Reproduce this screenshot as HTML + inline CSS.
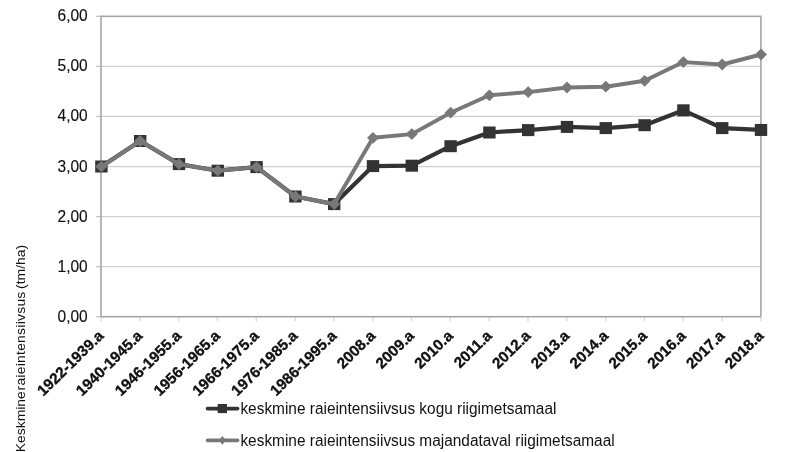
<!DOCTYPE html>
<html lang="et">
<head>
<meta charset="utf-8">
<title>Keskmine raieintensiivsus</title>
<style>
html,body{margin:0;padding:0;background:#fff;}
body{width:799px;height:452px;overflow:hidden;}
svg{display:block;}
text{font-family:"Liberation Sans",Arial,sans-serif;fill:#111;}
.yl{font-size:15.5px;text-anchor:end;stroke:#111;stroke-width:0.15px;}
.xl{font-size:15.2px;font-weight:bold;text-anchor:end;fill:#000;letter-spacing:0.05px;stroke:#000;stroke-width:0.3px;}
.lg{font-size:15.42px;}
.yt{font-size:13.9px;}
</style>
</head>
<body>
<svg width="799" height="452" viewBox="0 0 799 452">
<rect x="0" y="0" width="799" height="452" fill="#ffffff"/>
<g stroke="#d0d0d0" stroke-width="1.2" fill="none">
<line x1="101.00" y1="266.64" x2="760.90" y2="266.64"/>
<line x1="101.00" y1="216.58" x2="760.90" y2="216.58"/>
<line x1="101.00" y1="166.53" x2="760.90" y2="166.53"/>
<line x1="101.00" y1="116.47" x2="760.90" y2="116.47"/>
<line x1="101.00" y1="66.41" x2="760.90" y2="66.41"/>
</g>
<g stroke="#c4c4c4" stroke-width="1.3" fill="none">
<line x1="96.10" y1="316.70" x2="101.00" y2="316.70"/>
<line x1="96.10" y1="266.64" x2="101.00" y2="266.64"/>
<line x1="96.10" y1="216.58" x2="101.00" y2="216.58"/>
<line x1="96.10" y1="166.53" x2="101.00" y2="166.53"/>
<line x1="96.10" y1="116.47" x2="101.00" y2="116.47"/>
<line x1="96.10" y1="66.41" x2="101.00" y2="66.41"/>
<line x1="96.10" y1="16.35" x2="101.00" y2="16.35"/>
</g>
<g stroke="#dcdcdc" stroke-width="1.3" fill="none">
<line x1="101.00" y1="316.70" x2="101.00" y2="321.50"/>
<line x1="139.82" y1="316.70" x2="139.82" y2="321.50"/>
<line x1="178.64" y1="316.70" x2="178.64" y2="321.50"/>
<line x1="217.45" y1="316.70" x2="217.45" y2="321.50"/>
<line x1="256.27" y1="316.70" x2="256.27" y2="321.50"/>
<line x1="295.09" y1="316.70" x2="295.09" y2="321.50"/>
<line x1="333.91" y1="316.70" x2="333.91" y2="321.50"/>
<line x1="372.72" y1="316.70" x2="372.72" y2="321.50"/>
<line x1="411.54" y1="316.70" x2="411.54" y2="321.50"/>
<line x1="450.36" y1="316.70" x2="450.36" y2="321.50"/>
<line x1="489.18" y1="316.70" x2="489.18" y2="321.50"/>
<line x1="527.99" y1="316.70" x2="527.99" y2="321.50"/>
<line x1="566.81" y1="316.70" x2="566.81" y2="321.50"/>
<line x1="605.63" y1="316.70" x2="605.63" y2="321.50"/>
<line x1="644.45" y1="316.70" x2="644.45" y2="321.50"/>
<line x1="683.26" y1="316.70" x2="683.26" y2="321.50"/>
<line x1="722.08" y1="316.70" x2="722.08" y2="321.50"/>
<line x1="760.90" y1="316.70" x2="760.90" y2="321.50"/>
</g>
<rect x="101.00" y="16.35" width="659.90" height="300.35" stroke="#a6a6a6" stroke-width="1.6" fill="none"/>
<g class="yl">
<text transform="translate(87.7 321.70) scale(1 1.06)">0,00</text>
<text transform="translate(87.7 271.64) scale(1 1.06)">1,00</text>
<text transform="translate(87.7 221.58) scale(1 1.06)">2,00</text>
<text transform="translate(87.7 171.53) scale(1 1.06)">3,00</text>
<text transform="translate(87.7 121.47) scale(1 1.06)">4,00</text>
<text transform="translate(87.7 71.41) scale(1 1.06)">5,00</text>
<text transform="translate(87.7 21.35) scale(1 1.06)">6,00</text>
</g>
<g class="xl">
<text transform="translate(104.60 336.70) rotate(-44.4)">1922-1939.a</text>
<text transform="translate(143.42 336.70) rotate(-44.4)">1940-1945.a</text>
<text transform="translate(182.24 336.70) rotate(-44.4)">1946-1955.a</text>
<text transform="translate(221.05 336.70) rotate(-44.4)">1956-1965.a</text>
<text transform="translate(259.87 336.70) rotate(-44.4)">1966-1975.a</text>
<text transform="translate(298.69 336.70) rotate(-44.4)">1976-1985.a</text>
<text transform="translate(337.51 336.70) rotate(-44.4)">1986-1995.a</text>
<text transform="translate(376.32 336.70) rotate(-44.4)">2008.a</text>
<text transform="translate(415.14 336.70) rotate(-44.4)">2009.a</text>
<text transform="translate(453.96 336.70) rotate(-44.4)">2010.a</text>
<text transform="translate(492.78 336.70) rotate(-44.4)">2011.a</text>
<text transform="translate(531.59 336.70) rotate(-44.4)">2012.a</text>
<text transform="translate(570.41 336.70) rotate(-44.4)">2013.a</text>
<text transform="translate(609.23 336.70) rotate(-44.4)">2014.a</text>
<text transform="translate(648.05 336.70) rotate(-44.4)">2015.a</text>
<text transform="translate(686.86 336.70) rotate(-44.4)">2016.a</text>
<text transform="translate(725.68 336.70) rotate(-44.4)">2017.a</text>
<text transform="translate(764.50 336.70) rotate(-44.4)">2018.a</text>
</g>
<text class="yt" transform="translate(25.0 452.2) rotate(-90) scale(1 0.93)"><tspan x="0">Keskmine </tspan><tspan x="61.7" style="letter-spacing:0.26px">raieintensiivsus </tspan><tspan x="163.3">(tm/ha)</tspan></text>
<polyline points="101.40,166.50 140.20,141.00 179.00,164.10 217.80,170.70 256.60,167.10 295.40,196.50 334.20,204.10 373.00,166.10 411.80,165.70 450.60,146.20 489.40,132.50 528.20,130.10 567.00,126.90 605.80,128.10 644.60,125.20 683.40,110.30 722.20,128.10 761.00,129.95" fill="none" stroke="#333333" stroke-width="4.2" stroke-linejoin="round" stroke-linecap="round"/>
<g fill="#333333">
<rect x="95.20" y="160.50" width="12.4" height="12"/>
<rect x="134.00" y="135.00" width="12.4" height="12"/>
<rect x="172.80" y="158.10" width="12.4" height="12"/>
<rect x="211.60" y="164.70" width="12.4" height="12"/>
<rect x="250.40" y="161.10" width="12.4" height="12"/>
<rect x="289.20" y="190.50" width="12.4" height="12"/>
<rect x="328.00" y="198.10" width="12.4" height="12"/>
<rect x="366.80" y="160.10" width="12.4" height="12"/>
<rect x="405.60" y="159.70" width="12.4" height="12"/>
<rect x="444.40" y="140.20" width="12.4" height="12"/>
<rect x="483.20" y="126.50" width="12.4" height="12"/>
<rect x="522.00" y="124.10" width="12.4" height="12"/>
<rect x="560.80" y="120.90" width="12.4" height="12"/>
<rect x="599.60" y="122.10" width="12.4" height="12"/>
<rect x="638.40" y="119.20" width="12.4" height="12"/>
<rect x="677.20" y="104.30" width="12.4" height="12"/>
<rect x="716.00" y="122.10" width="12.4" height="12"/>
<rect x="754.80" y="123.95" width="12.4" height="12"/>
</g>
<polyline points="101.40,166.60 140.20,141.00 179.00,164.10 217.80,170.70 256.60,167.10 295.40,196.50 334.20,204.10 373.00,137.80 411.80,134.10 450.60,112.70 489.40,95.30 528.20,92.10 567.00,87.50 605.80,86.70 644.60,80.80 683.40,62.10 722.20,64.50 761.00,54.50" fill="none" stroke="#787878" stroke-width="3.9" stroke-linejoin="round" stroke-linecap="round"/>
<g fill="#787878">
<polygon points="101.40,160.70 107.40,166.60 101.40,172.50 95.40,166.60"/>
<polygon points="140.20,135.10 146.20,141.00 140.20,146.90 134.20,141.00"/>
<polygon points="179.00,158.20 185.00,164.10 179.00,170.00 173.00,164.10"/>
<polygon points="217.80,164.80 223.80,170.70 217.80,176.60 211.80,170.70"/>
<polygon points="256.60,161.20 262.60,167.10 256.60,173.00 250.60,167.10"/>
<polygon points="295.40,190.60 301.40,196.50 295.40,202.40 289.40,196.50"/>
<polygon points="334.20,198.20 340.20,204.10 334.20,210.00 328.20,204.10"/>
<polygon points="373.00,131.90 379.00,137.80 373.00,143.70 367.00,137.80"/>
<polygon points="411.80,128.20 417.80,134.10 411.80,140.00 405.80,134.10"/>
<polygon points="450.60,106.80 456.60,112.70 450.60,118.60 444.60,112.70"/>
<polygon points="489.40,89.40 495.40,95.30 489.40,101.20 483.40,95.30"/>
<polygon points="528.20,86.20 534.20,92.10 528.20,98.00 522.20,92.10"/>
<polygon points="567.00,81.60 573.00,87.50 567.00,93.40 561.00,87.50"/>
<polygon points="605.80,80.80 611.80,86.70 605.80,92.60 599.80,86.70"/>
<polygon points="644.60,74.90 650.60,80.80 644.60,86.70 638.60,80.80"/>
<polygon points="683.40,56.20 689.40,62.10 683.40,68.00 677.40,62.10"/>
<polygon points="722.20,58.60 728.20,64.50 722.20,70.40 716.20,64.50"/>
<polygon points="761.00,48.60 767.00,54.50 761.00,60.40 755.00,54.50"/>
</g>
<line x1="207.6" y1="408.6" x2="237.5" y2="408.6" stroke="#333333" stroke-width="3.7" stroke-linecap="round"/>
<rect x="217.7" y="404" width="9.3" height="9.1" fill="#333333"/>
<line x1="207.6" y1="440.3" x2="237.5" y2="440.3" stroke="#787878" stroke-width="3.7" stroke-linecap="round"/>
<polygon points="222.4,435.9 225.8,440.3 222.4,444.7 219.0,440.3" fill="#787878"/>
<text class="lg" transform="translate(240.4 413.9) scale(1 1.04)">keskmine raieintensiivsus kogu riigimetsamaal</text>
<text class="lg" transform="translate(240.4 446.2) scale(1 1.04)">keskmine raieintensiivsus majandataval riigimetsamaal</text>
</svg>
</body>
</html>
